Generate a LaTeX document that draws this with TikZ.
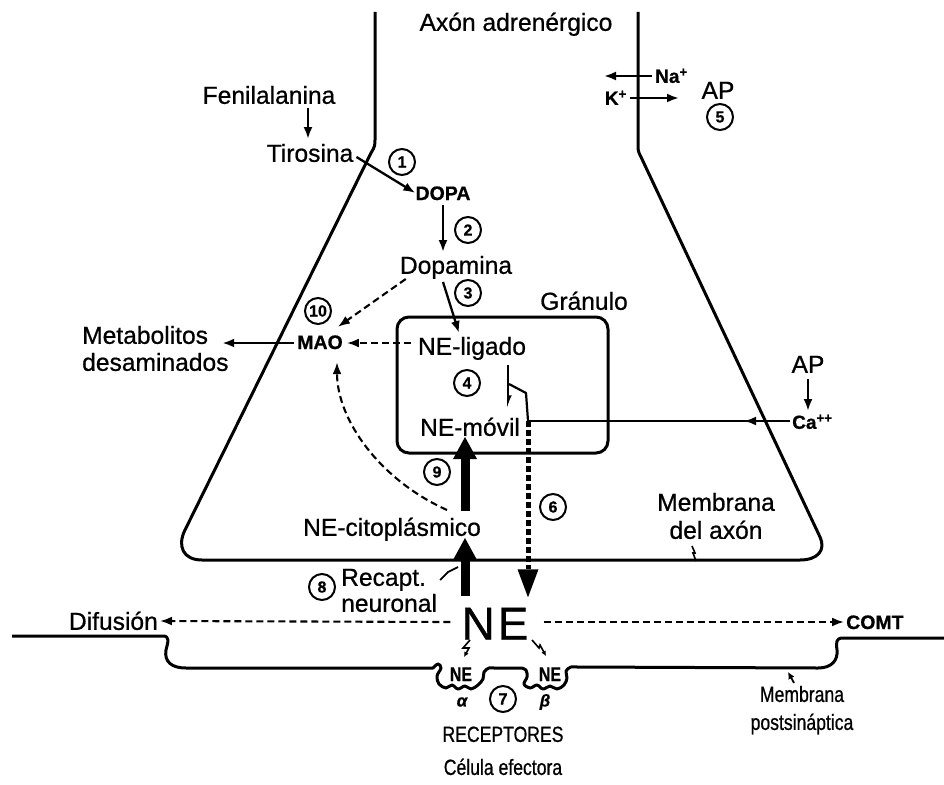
\documentclass[tikz,border=0pt]{standalone}
\usepackage{fontspec}
\setmainfont{Liberation Sans}[RawFeature={embolden=0.7}]
\newfontfamily\narrowfont{Liberation Sans}[FakeStretch=0.8, RawFeature={embolden=0.7}]
\usetikzlibrary{arrows.meta}
\begin{document}
\begin{tikzpicture}[x=1pt,y=-1pt,
 lw/.style={line width=3pt},
 txt/.style={inner sep=0pt, font=\fontsize{24.6}{28}\selectfont, text height=17.6pt, text depth=0pt},
 bsm/.style={inner sep=0pt, font=\fontsize{19.5}{22}\selectfont\bfseries, text height=14pt, text depth=0pt},
 ion/.style={inner sep=0pt, font=\fontsize{19}{22}\selectfont\bfseries, text height=13.6pt, text depth=0pt},
 nar/.style={inner sep=0pt, font=\fontsize{22}{26}\selectfont\narrowfont, text height=15.8pt, text depth=0pt},
 rne/.style={inner sep=0pt, font=\fontsize{20}{22}\selectfont\narrowfont\bfseries, text height=14.3pt, text depth=0pt},
 big/.style={inner sep=0pt, font=\fontsize{46}{50}\selectfont, text height=33pt, text depth=0pt},
 num/.style={circle, draw, line width=2pt, inner sep=0pt, minimum size=26pt, font=\fontsize{16}{18}\selectfont\bfseries},
 arr/.style={line width=2.3pt, -{Latex[length=12pt,width=9pt]}},
 dsh/.style={line width=2.1pt, dash pattern=on 7pt off 4pt, -{Latex[length=12pt,width=9pt]}},
 heavy/.style={line width=9pt, -{Triangle[length=22pt,width=24pt,line width=0pt]}},
 hdash/.style={line width=5pt, dash pattern=on 6pt off 3pt, -{Triangle[length=28pt,width=21pt,line width=0pt]}},
]
\fill[white] (0,0) rectangle (944,784);
\useasboundingbox (0,0) rectangle (944,784);

% axon outline
\draw[lw, line join=round] (375,12) -- (375,138) .. controls (375,146) .. (371,153) -- (185,530)
  .. controls (177,546) and (183,560) .. (202,560) -- (800,560)
  .. controls (818,560) and (826,550) .. (820,537) -- (641,157)
  .. controls (638,151) .. (638,144) -- (638,12);

% postsynaptic membrane
\draw[lw, line join=round] (12,636) -- (163,636) .. controls (170,636) and (168,642) .. (166,650)
  .. controls (164,662) and (172,668) .. (186,668) -- (433,668)
  -- plot[smooth, tension=0.6] coordinates {(433,668) (438,664) (441,668) (437,676) (439,684) (446,688) (452,685) (458,689) (465,686) (471,689) (478,685) (483,679) (484,672) (489,668) (494,668)}
  -- (521,668)
  -- plot[smooth, tension=0.6] coordinates {(521,668) (526,670) (527,677) (524,684) (530,688) (537,685) (543,689) (550,686) (557,689) (564,685) (567,678) (566,671) (571,667) (577,667)}
  -- (818,668) .. controls (832,668) and (838,660) .. (837,650)
  .. controls (836,642) and (836,638) .. (843,638) -- (944,638);

% granule
\draw[lw, rounded corners=12pt] (397,317) rectangle (608,453);
\node[txt] (gran) at (584,301) {Gránulo};

% texts
\node[txt] (axon) at (516,22) {Axón adrenérgico};
\node[txt] (fen) at (269,95) {Fenilalanina};
\node[txt] (tir) at (310,153) {Tirosina};
\node[bsm] (dopa) at (443,193) {DOPA};
\node[txt] (dopam) at (456,265) {Dopamina};
\node[bsm] (mao) at (320,342) {MAO};
\node[txt,anchor=west] (met1) at (82,335) {Metabolitos};
\node[txt,anchor=west] (met2) at (82,362) {desaminados};
\node[txt] (lig) at (472,346) {NE-ligado};
\node[txt] (mov) at (470,427) {NE-móvil};
\node[txt] (cito) at (392,527) {NE-citoplásmico};
\node[txt] (mem1) at (716,502) {Membrana};
\node[txt] (mem2) at (716,530) {del axón};
\node[txt,anchor=west] (rec1) at (341,577) {Recapt.};
\node[txt,anchor=west] (rec2) at (341,603) {neuronal};
\node[big] (ne) at (495,623) {N\kern3pt E};
\node[txt,anchor=east] (dif) at (158,621) {Difusión};
\node[bsm,anchor=west] (comt) at (846,622) {COMT};
\node[rne] (nea) at (461,674) {NE};
\node[rne] (neb) at (550,674) {NE};
\node[inner sep=0pt, font=\fontsize{17}{20}\selectfont\bfseries\itshape] (alpha) at (462,702) {α};
\node[inner sep=0pt, font=\fontsize{17}{20}\selectfont\bfseries\itshape] (beta) at (545,702) {β};
\node[nar] (recep) at (503,734) {RECEPTORES};
\node[nar] (cel) at (503,767) {Célula efectora};
\node[nar] (pm1) at (802,694) {Membrana};
\node[nar] (pm2) at (802,722) {postsináptica};
\node[txt] (ap1) at (718,90) {AP};
\node[ion,anchor=west] (na) at (655,76) {Na\textsuperscript{+}};
\node[ion,anchor=east] (k) at (627,98) {K\textsuperscript{+}};
\node[txt] (ap2) at (808,364) {AP};
\node[ion,anchor=west] (ca) at (792,422) {Ca\textsuperscript{++}};

% numbered circles
\node[num] (c1) at (402,162) {1};
\node[num] (c2) at (468,230) {2};
\node[num] (c3) at (468,293) {3};
\node[num] (c10) at (318,311) {10};
\node[num] (c4) at (467,383) {4};
\node[num] (c5) at (720,117) {5};
\node[num] (c6) at (553,507) {6};
\node[num] (c7) at (503,699) {7};
\node[num] (c8) at (322,587) {8};
\node[num] (c9) at (437,472) {9};

% ion arrows
\draw[arr] ([xshift=-3pt]na.west) -- (604,76);
\draw[arr] ([xshift=3pt]k.east) -- (679,98);

% synthesis chain
\draw[arr] ([yshift=-4pt]fen.south -| 308,0) -- ([yshift=5pt]tir.north -| 308,0);
\draw[arr] ([shift={(3,4)}]tir.east) -- (dopa.west);
\draw[arr] ([yshift=-5pt]dopa.south) -- ([yshift=4pt]dopa.south |- dopam.north);
\draw[arr] ([shift={(-13,8)}]dopam.south) -- ([shift={(-13,-4)}]lig.north);
\draw[dsh] ([shift={(6,5)}]dopam.south west) -- ([shift={(-5,-8)}]mao.north east);
\draw[dsh] ([shift={(-7,-3)}]lig.west) -- ([shift={(4,1)}]mao.east);
\draw[arr] ([shift={(-3,1)}]mao.west) -- ([shift={(14,8)}]met1.east);
\draw[dsh] ([shift={(55,-8)}]cito.north) .. controls (380,480) and (337,420) .. ([shift={(17,13)}]mao.south);

% granule arrows
\coordinate (g1) at (508,365);
\coordinate (g2) at (508,409);
\coordinate (jn) at (528,421);
\draw[line width=2.2pt, -{Latex[left,length=10pt,width=8pt]}] (g1) -- (g2);
\draw[line width=2.2pt, line join=round] (509,384) -- (526,393) -- (jn);
\draw[hdash] (jn) -- ([shift={(33,-9)}]ne.north);
\coordinate (cam) at (744,421);
\draw[arr] ([xshift=-2pt]ca.west |- jn) -- (cam);
\draw[line width=2.2pt] ([xshift=4pt]cam) -- (jn);
\draw[arr] ([yshift=-6pt]ap2.south) -- ([yshift=4pt]ap2.south |- ca.north);

% heavy arrows
\draw[heavy] ([shift={(73,-7)}]cito.north) -- ([shift={(-5,1)}]mov.south);
\draw[heavy] ([shift={(-30,-10)}]ne.north) -- ([shift={(73,2)}]cito.south);

% diffusion
\draw[dsh] ([xshift=-11pt,yshift=1pt]ne.west) -- ([xshift=2pt]dif.east);
\draw[dsh] ([xshift=15pt,yshift=1pt]ne.east) -- ([xshift=-2pt]comt.west);

% small pointers
\draw[line width=1.6pt] (692,546) -- (695,553) -- (693,553) -- (696,561);
\draw[line width=1.8pt] ([shift={(14,3)}]rec1.east) -- (448,572) -- (458,567);
\draw[line width=1.6pt, -{Latex[length=5pt,width=5pt]}] (470,640) -- (463,648) -- (469,648) -- (464,657);
\draw[line width=1.6pt, -{Latex[length=5pt,width=5pt]}] (532,640) -- (539,648) -- (540,645) -- (546,656);
\draw[line width=1.8pt, -{Latex[length=7pt,width=7pt]}] ([shift={(-8,-3)}]pm1.north) -- ++(-6,-11);
\end{tikzpicture}
\end{document}
